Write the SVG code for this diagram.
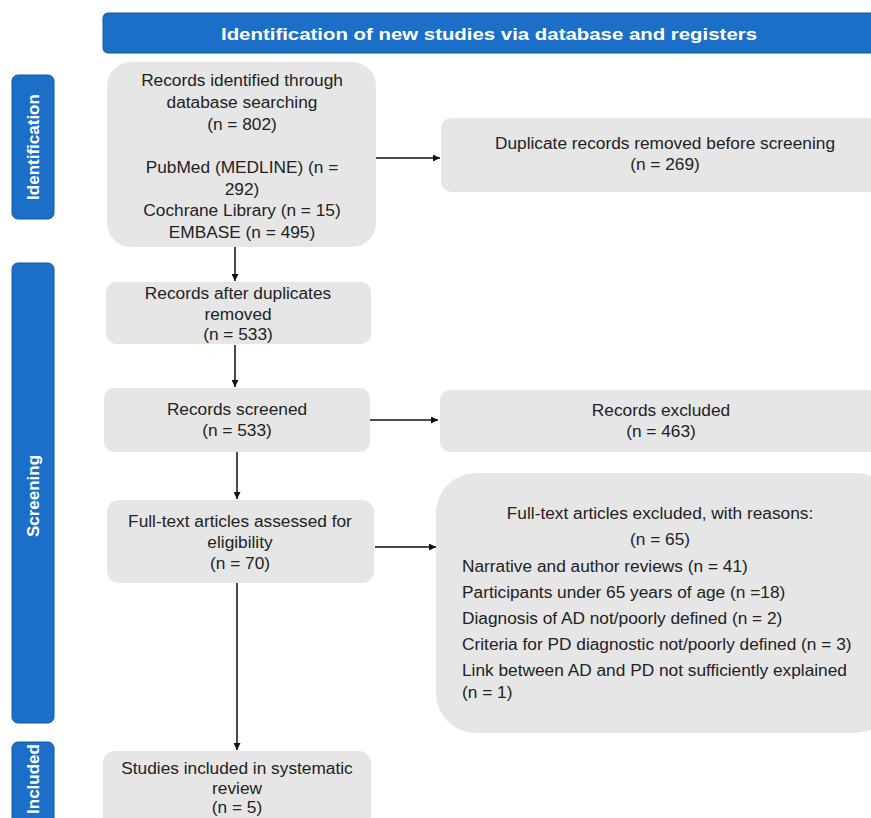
<svg xmlns="http://www.w3.org/2000/svg" width="871" height="818" viewBox="0 0 871 818">
<defs>
<marker id="ah" viewBox="0 0 10 10" refX="10" refY="5" markerWidth="7" markerHeight="7" markerUnits="userSpaceOnUse" orient="auto"><path d="M0,0 L10,5 L0,10 z" fill="#111"/></marker>
<style>
.box{fill:#e6e6e6;}
.t{font-family:"Liberation Sans",Arial,sans-serif;font-size:17.3px;fill:#222;text-anchor:middle;}
.tl{font-family:"Liberation Sans",Arial,sans-serif;font-size:17.3px;fill:#222;}
.band{fill:#1c6fc8;stroke:#15569c;stroke-width:1;}
.bt{font-family:"Liberation Sans",Arial,sans-serif;font-weight:bold;font-size:17px;fill:#fff;text-anchor:middle;}
.c{stroke:#111;stroke-width:1.5;fill:none;marker-end:url(#ah);}
</style>
</defs>
<rect width="871" height="818" fill="#fff"/>
<g id="header">
<rect class="band" x="103" y="13" width="780" height="40" rx="5"/>
<text class="bt" x="489" y="40" font-size="20" textLength="536" lengthAdjust="spacingAndGlyphs">Identification of new studies via database and registers</text>
</g>
<g id="lbl-identification">
<rect class="band" x="12" y="75" width="42" height="144" rx="6"/>
<text class="bt" transform="translate(39,147) rotate(-90)">Identification</text>
</g>
<g id="lbl-screening">
<rect class="band" x="12" y="263" width="42" height="460" rx="6"/>
<text class="bt" transform="translate(39,496) rotate(-90)">Screening</text>
</g>
<g id="lbl-included">
<rect class="band" x="12" y="742" width="42" height="100" rx="6"/>
<text class="bt" transform="translate(39,779) rotate(-90)">Included</text>
</g>
<g id="n-identified">
<rect class="box" x="107" y="62" width="269" height="185" rx="24"/>
<text class="t" x="242" y="86">Records identified through</text>
<text class="t" x="242" y="108">database searching</text>
<text class="t" x="242" y="130">(n = 802)</text>
<text class="t" x="242" y="173">PubMed (MEDLINE) (n =</text>
<text class="t" x="242" y="195">292)</text>
<text class="t" x="242" y="216">Cochrane Library (n = 15)</text>
<text class="t" x="242" y="238">EMBASE (n = 495)</text>
</g>
<g id="n-duplicates">
<rect class="box" x="441" y="118" width="450" height="74" rx="10"/>
<text class="t" x="665" y="149">Duplicate records removed before screening</text>
<text class="t" x="665" y="170">(n = 269)</text>
</g>
<g id="n-after">
<rect class="box" x="106" y="282" width="265" height="62" rx="10"/>
<text class="t" x="238" y="299">Records after duplicates</text>
<text class="t" x="238" y="320">removed</text>
<text class="t" x="238" y="340">(n = 533)</text>
</g>
<g id="n-screened">
<rect class="box" x="104" y="388" width="266" height="64" rx="10"/>
<text class="t" x="237" y="415">Records screened</text>
<text class="t" x="237" y="436">(n = 533)</text>
</g>
<g id="n-excluded">
<rect class="box" x="440" y="390" width="450" height="62" rx="10"/>
<text class="t" x="661" y="416">Records excluded</text>
<text class="t" x="661" y="437">(n = 463)</text>
</g>
<g id="n-fulltext">
<rect class="box" x="107" y="500" width="267" height="83" rx="12"/>
<text class="t" x="240" y="527">Full-text articles assessed for</text>
<text class="t" x="240" y="548">eligibility</text>
<text class="t" x="240" y="569">(n = 70)</text>
</g>
<g id="n-ftexcluded">
<rect class="box" x="436" y="473" width="460" height="260" rx="40"/>
<text class="t" x="660" y="519">Full-text articles excluded, with reasons:</text>
<text class="t" x="660" y="545">(n = 65)</text>
<text class="tl" x="462" y="572">Narrative and author reviews (n = 41)</text>
<text class="tl" x="462" y="598">Participants under 65 years of age (n =18)</text>
<text class="tl" x="462" y="624">Diagnosis of AD not/poorly defined (n = 2)</text>
<text class="tl" x="462" y="650">Criteria for PD diagnostic not/poorly defined (n = 3)</text>
<text class="tl" x="462" y="676">Link between AD and PD not sufficiently explained</text>
<text class="tl" x="462" y="698">(n = 1)</text>
</g>
<g id="n-included">
<rect class="box" x="103" y="751" width="268" height="90" rx="12"/>
<text class="t" x="237" y="774">Studies included in systematic</text>
<text class="t" x="237" y="794">review</text>
<text class="t" x="237" y="813">(n = 5)</text>
</g>
<g id="connectors">
<line class="c" x1="376" y1="158" x2="440" y2="158"/>
<line class="c" x1="235" y1="247" x2="235" y2="281"/>
<line class="c" x1="235" y1="345" x2="235" y2="387"/>
<line class="c" x1="370" y1="420" x2="438" y2="420"/>
<line class="c" x1="237" y1="452" x2="237" y2="499"/>
<line class="c" x1="375" y1="547" x2="436" y2="547"/>
<line class="c" x1="237" y1="583" x2="237" y2="750"/>
</g>
</svg>
